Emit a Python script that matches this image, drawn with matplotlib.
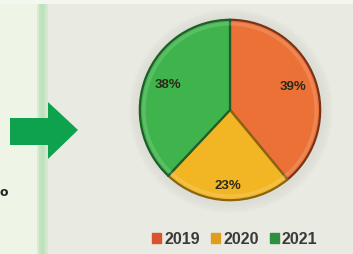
import numpy as np
import matplotlib.pyplot as plt
from matplotlib.patches import Rectangle, Polygon, Circle

# data
years = ["2019", "2020", "2021"]
shares = [39, 23, 38]
pct_labels = ["39%", "23%", "38%"]
colors = ["#ec7136", "#f2b523", "#3fb34c"]
edge_dark = ["#7a3318", "#8a6412", "#1f5e28"]
legend_colors = ["#d9532c", "#de9d1c", "#2e8f3e"]

W, H = 353, 254
fig = plt.figure(figsize=(W / 100, H / 100), dpi=100)
fig.patch.set_facecolor("#eef4e6")

# background / decoration layer in pixel coords
bg = fig.add_axes([0, 0, 1, 1])
bg.set_xlim(0, W)
bg.set_ylim(H, 0)
bg.axis("off")
bg.add_patch(Rectangle((0, 0), W, 4, color="#f3f7ee", lw=0))
bg.add_patch(Rectangle((48, 4), W - 48, H, color="#e9ebe2", lw=0))
# vertical green band
for i, c in enumerate(["#d6ecd3", "#c2e5c0", "#bde2bb", "#c6e6c3", "#d4e9d0"]):
    bg.add_patch(Rectangle((37 + i * 2.2, 4), 2.3, H, color=c, lw=0))
# arrow
bg.add_patch(Polygon([(10, 118), (48, 118), (48, 102), (78, 130),
                      (48, 159), (48, 145), (10, 145)],
                     closed=True, color="#0fa24e", lw=0))
bg.text(-1, 193, "o", fontsize=9, fontweight="bold", color="#222222",
        va="center", ha="left")
# soft shadow around pie
for k in range(10):
    bg.add_patch(Circle((231, 111), 92 + 10 - k, color="#d8dad2",
                        alpha=0.09, lw=0))

# pie
cx, cy, r = 230, 110, 92
ax = fig.add_axes([(cx - r) / W, (H - cy - r) / H, 2 * r / W, 2 * r / H])
wedges, _ = ax.pie(shares, colors=colors, startangle=90, counterclock=False,
                   radius=1, wedgeprops=dict(linewidth=1.6, edgecolor="#3a2a1a"))
for w, ec in zip(wedges, edge_dark):
    w.set_edgecolor(ec)
# light rim highlight
ax.add_patch(Circle((0, 0), 0.955, fill=False, lw=2.5, ec="white", alpha=0.15))
ax.set_xlim(-1.02, 1.02)
ax.set_ylim(-1.02, 1.02)
ax.set_aspect("equal")
ax.axis("off")

label_dist = [0.74, 0.84, 0.74]
for w, lab, d in zip(wedges, pct_labels, label_dist):
    ang = np.deg2rad((w.theta1 + w.theta2) / 2)
    ax.text(d * np.cos(ang), d * np.sin(ang), lab, ha="center", va="center",
            fontsize=9.5, fontweight="bold", color="#2b2a18",
            family="Liberation Sans")

# legend
handles = [Rectangle((0, 0), 1, 1, color=c) for c in legend_colors]
leg = fig.legend(handles, years, loc="center", ncol=3,
                 bbox_to_anchor=(235 / W, 1 - 239 / H), frameon=False,
                 handlelength=0.55, handleheight=0.55, handletextpad=0.2,
                 columnspacing=0.7,
                 prop={"family": "Liberation Sans", "size": 11.5,
                       "weight": "bold"})
for t in leg.get_texts():
    t.set_color("#3a3a3a")

fig.savefig("out.png", dpi=100, facecolor=fig.get_facecolor())
